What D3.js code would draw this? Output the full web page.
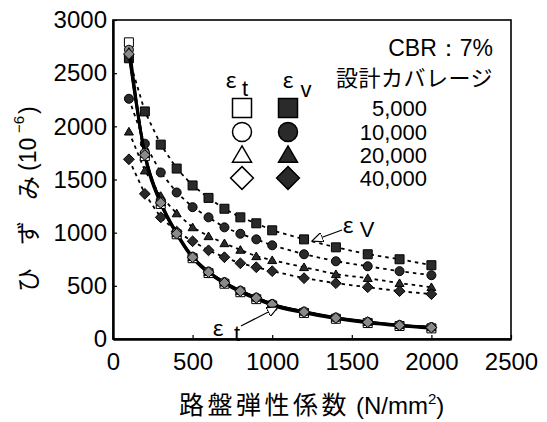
<!DOCTYPE html>
<html><head><meta charset="utf-8">
<script src="https://cdn.jsdelivr.net/npm/d3@7"></script>
<style>body{margin:0;background:#fff} svg{display:block}</style>
</head><body><svg id="c" width="547" height="422"></svg>
<script>
// ---- data ----
const xValues = [100,200,300,400,500,600,700,800,900,1000,1200,1400,1600,1800,2000];
const coverageLabels = ["5,000","10,000","20,000","40,000"];
const shapes = ["square","circle","triangle","diamond"];
const ev5000  = [2640,2140,1828,1603,1444,1327,1225,1144,1088,1022,937,862,797,750,694];
const ev10000 = [2259,1837,1566,1378,1240,1144,1050,990,937,881,797,731,684,638,600];
const ev20000 = [1950,1584,1345,1181,1050,966,900,838,778,741,675,609,572,525,487];
const ev40000 = [1690,1365,1144,1010,919,834,769,712,675,638,572,525,487,450,422];
const et5000  = [2790,1720,1270,985,760,620,520,440,375,315,245,190,150,122,100];
const et10000 = [2720,1750,1290,1000,775,635,535,455,390,330,258,202,162,132,112];
const et20000 = [2700,1740,1285,995,770,630,530,452,388,328,256,200,160,130,110];
const et40000 = [2680,1730,1280,990,768,628,528,450,386,326,254,198,158,128,108];
const xTicks = [0,500,1000,1500,2000,2500];
const yTicks = [0,500,1000,1500,2000,2500,3000];
const evSeries = [ev5000, ev10000, ev20000, ev40000];
const etSeries = [et5000, et10000, et20000, et40000];

const svg = d3.select("#c");
const x = d3.scaleLinear().domain([0,2500]).range([113,511]);
const y = d3.scaleLinear().domain([0,3000]).range([339,20]);
const LAT = "'Liberation Sans', Arial, sans-serif";
const CJK = "'Noto Sans CJK JP', sans-serif";

function shapePath(kind, s){
  const h = s/2;
  if(kind==="square") return `M${-h},${-h}H${h}V${h}H${-h}Z`;
  if(kind==="circle") return `M${h},0A${h},${h} 0 1,1 ${-h},0A${h},${h} 0 1,1 ${h},0Z`;
  if(kind==="triangle") return `M0,${-h*0.95}L${h},${h*0.75}L${-h},${h*0.75}Z`;
  const d = h*1.2; return `M0,${-d}L${d},0L0,${d}L${-d},0Z`;
}

// ---- frame & axes ----
svg.append("rect").attr("x",x(0)).attr("y",y(3000)).attr("width",x(2500)-x(0)).attr("height",y(0)-y(3000))
  .attr("fill","none").attr("stroke","#000").attr("stroke-width",1.6);

const fmt = d3.format("d");
const xAxis = svg.append("g").attr("transform",`translate(0,${y(0)})`)
  .call(d3.axisBottom(x).tickValues(xTicks).tickFormat(fmt).tickSizeInner(-4).tickSizeOuter(0).tickPadding(14));
const yAxis = svg.append("g").attr("transform",`translate(${x(0)},0)`)
  .call(d3.axisLeft(y).tickValues(yTicks).tickFormat(fmt).tickSizeInner(-4).tickSizeOuter(0).tickPadding(6));
[xAxis,yAxis].forEach(a=>{
  a.select(".domain").attr("stroke","#000").attr("stroke-width",2.4);
  a.selectAll(".tick line").attr("stroke","#000").attr("stroke-width",1.2);
  a.selectAll("text").attr("font-family",LAT).attr("font-size",24).attr("fill","#000");
});

// ---- lines ----
const line = d3.line().x((d,i)=>x(xValues[i])).y(d=>y(d));
const smooth = d3.line().x((d,i)=>x(xValues[i])).y(d=>y(d)).curve(d3.curveMonotoneX);
evSeries.forEach(s=>{
  svg.append("path").attr("d",line(s)).attr("fill","none").attr("stroke","#000")
    .attr("stroke-width",1.8).attr("stroke-dasharray","3.5,4");
});
evSeries.forEach((s,k)=>{
  svg.append("g").selectAll("path").data(s).join("path")
    .attr("transform",(d,i)=>`translate(${x(xValues[i])},${y(d)})`)
    .attr("d",shapePath(shapes[k],9)).attr("fill","#2a2a2a").attr("stroke","#000").attr("stroke-width",1);
});
etSeries.forEach(s=>{
  svg.append("path").attr("d",smooth(s)).attr("fill","none").attr("stroke","#000").attr("stroke-width",2.6);
});
etSeries.forEach((s,k)=>{
  svg.append("g").selectAll("path").data(s).join("path")
    .attr("transform",(d,i)=>`translate(${x(xValues[i])},${y(d)})`)
    .attr("d",shapePath(shapes[k],9)).attr("fill",k===0?"#fff":"#8a8a8a").attr("stroke","#000").attr("stroke-width",1);
});

// ---- annotations ----
const defs = svg.append("defs");
defs.append("marker").attr("id","ah").attr("viewBox","0 0 12 10").attr("refX",11).attr("refY",5)
  .attr("markerWidth",12).attr("markerHeight",10).attr("markerUnits","userSpaceOnUse").attr("orient","auto")
  .append("path").attr("d","M0,0L11,5L0,10Z").attr("fill","#fff").attr("stroke","#000").attr("stroke-width",1.2);
svg.append("line").attr("x1",342).attr("y1",230).attr("x2",312).attr("y2",241)
  .attr("stroke","#000").attr("stroke-width",1.2).attr("marker-end","url(#ah)");
svg.append("line").attr("x1",241).attr("y1",326).attr("x2",278).attr("y2",307)
  .attr("stroke","#000").attr("stroke-width",1.2).attr("marker-end","url(#ah)");
svg.append("text").attr("x",348).attr("y",233).attr("text-anchor","middle").attr("font-family",CJK).attr("font-size",22).text("ε");
svg.append("text").attr("x",367).attr("y",237).attr("text-anchor","middle").attr("font-family",LAT).attr("font-size",22).text("V");
svg.append("text").attr("x",218).attr("y",336).attr("text-anchor","middle").attr("font-family",CJK).attr("font-size",22).text("ε");
svg.append("text").attr("x",237).attr("y",341).attr("text-anchor","middle").attr("font-family",LAT).attr("font-size",22).text("t");

// ---- legend ----
svg.append("text").attr("x",493).attr("y",56).attr("text-anchor","end").attr("font-family",LAT).attr("font-size",23).text("CBR：7%");
svg.append("text").attr("x",493).attr("y",86).attr("text-anchor","end").attr("font-family",CJK).attr("font-size",22).attr("letter-spacing",0.5).text("設計カバレージ");
svg.append("text").attr("x",231).attr("y",88).attr("text-anchor","middle").attr("font-family",CJK).attr("font-size",22).text("ε");
svg.append("text").attr("x",245).attr("y",96).attr("text-anchor","middle").attr("font-family",LAT).attr("font-size",22).text("t");
svg.append("text").attr("x",288).attr("y",88).attr("text-anchor","middle").attr("font-family",CJK).attr("font-size",22).text("ε");
svg.append("text").attr("x",306).attr("y",97).attr("text-anchor","middle").attr("font-family",LAT).attr("font-size",22).text("v");
const rowY = [108,132,155,178];
shapes.forEach((sh,k)=>{
  svg.append("path").attr("transform",`translate(242,${rowY[k]})`).attr("d",shapePath(sh,19))
    .attr("fill","#fff").attr("stroke","#000").attr("stroke-width",1.5);
  svg.append("path").attr("transform",`translate(288,${rowY[k]})`).attr("d",shapePath(sh,19))
    .attr("fill","#2a2a2a").attr("stroke","#000").attr("stroke-width",1.5);
  svg.append("text").attr("x",427).attr("y",rowY[k]+8).attr("text-anchor","end").attr("font-family",LAT)
    .attr("font-size",22).text(coverageLabels[k]);
});

// ---- axis titles ----
const xt = svg.append("text").attr("x",179).attr("y",414).attr("font-family",CJK).attr("font-size",25);
xt.append("tspan").attr("letter-spacing",3.5).text("路盤弾性係数");
xt.append("tspan").attr("x",356).attr("font-family",LAT).attr("font-size",24).text("(N/mm");
xt.append("tspan").attr("dy",-10).attr("font-family",LAT).attr("font-size",15).text("2");
xt.append("tspan").attr("dy",10).attr("font-family",LAT).attr("font-size",24).text(")");

const yt = svg.append("g").attr("transform","translate(28,295) rotate(-90)");
[["ひ",15],["ず",62],["み",107]].forEach(([c,p])=>{
  yt.append("text").attr("x",p).attr("y",0).attr("dy","0.36em").attr("text-anchor","middle")
    .attr("font-family",CJK).attr("font-size",24).text(c);
});
yt.append("text").attr("x",124).attr("y",0).attr("dy","0.36em").attr("font-family",LAT).attr("font-size",23).text("(10");
yt.append("text").attr("x",162).attr("y",-9).attr("dy","0.36em").attr("font-family",LAT).attr("font-size",15).text("−6");
yt.append("text").attr("x",181).attr("y",0).attr("dy","0.36em").attr("font-family",LAT).attr("font-size",23).text(")");
</script></body></html>
